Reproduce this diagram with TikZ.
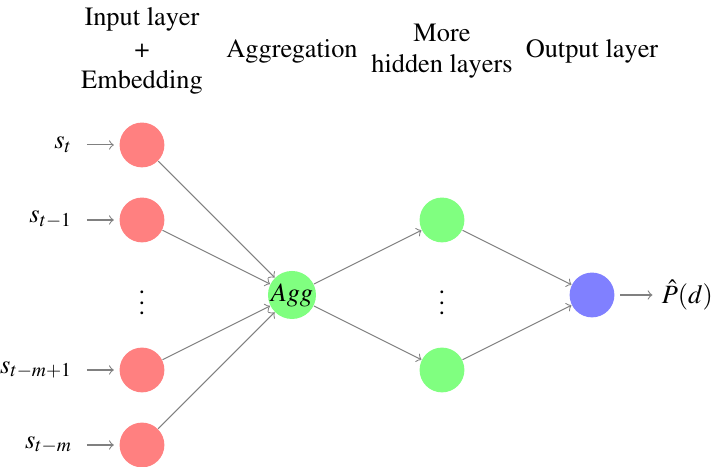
\documentclass[tikz,border=0pt]{standalone}
\usepackage[T1]{fontenc}
\usepackage{mathptmx}
\usetikzlibrary{positioning}
\begin{document}
\begin{tikzpicture}[
    neuron/.style={circle,minimum size=17pt,inner sep=0pt},
    input neuron/.style={neuron,fill=red!50},
    agg neuron/.style={neuron,fill=green!50},
    hidden neuron/.style={neuron,fill=green!50},
    output neuron/.style={neuron,fill=blue!50},
    conn/.style={->,draw=gray},
    annot/.style={align=center}]
  \useasboundingbox (-1.893,-4.293) rectangle (7.6,1.933);

  % input layer
  \foreach \name/\y/\lab in {1/0/s_t,2/-1/s_{t-1},3/-3/s_{t-m+1},4/-4/s_{t-m}} {
    \node[input neuron] (I-\name) at (0,\y) {};
    \node[left=0.5cm of I-\name] (L-\name) {$\lab$};
    \draw[conn,shorten <=2pt,shorten >=2pt] (L-\name) -- (I-\name);
  }
  \node (I-dots) at (0,-2) {$\vdots$};

  % aggregation
  \node[agg neuron] (A) at (2,-2) {$Agg$};
  \foreach \name in {1,...,4}
    \draw[conn] (I-\name) -- (A);

  % hidden layers
  \node[hidden neuron] (H-1) at (4,-1) {};
  \node[hidden neuron] (H-2) at (4,-3) {};
  \node (H-dots) at (4,-2) {$\vdots$};
  \foreach \name in {1,2}
    \draw[conn] (A) -- (H-\name);

  % output
  \node[output neuron] (O) at (6,-2) {};
  \foreach \name in {1,2}
    \draw[conn] (H-\name) -- (O);
  \node[right=0.5cm of O] (P) {$\hat{P}(d)$};
  \draw[conn,shorten <=2pt] (O) -- (P);

  % titles
  \node[annot] (t-in) at (0,1.25) {Input layer\\+\\Embedding};
  \node[annot] (t-agg) at (2,1.25) {Aggregation};
  \node[annot] (t-hid) at (4,1.25) {More\\hidden layers};
  \node[annot] (t-out) at (6,1.25) {Output layer};
\end{tikzpicture}
\end{document}
